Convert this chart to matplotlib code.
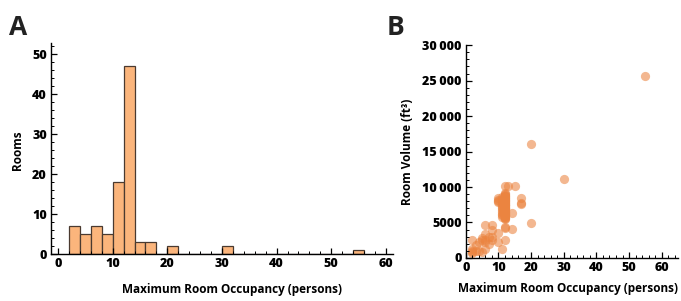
import numpy as np
import matplotlib
matplotlib.use('Agg')
import matplotlib.pyplot as plt
from matplotlib.ticker import MultipleLocator, FixedLocator, FixedFormatter

plt.rcParams['font.family'] = ['Open Sans', 'DejaVu Sans']
plt.rcParams['font.weight'] = 'heavy'

# histogram (panel A): bin edges and counts
binEdges = [2, 4, 6, 8, 10, 12, 14, 16, 18, 20, 22, 30, 32, 54, 56]
binLefts = [2, 4, 6, 8, 10, 12, 14, 16, 20, 30, 54]
binCounts = [7, 5, 7, 5, 18, 47, 3, 3, 2, 2, 1]

# scatter (panel B): occupancy vs room volume
occupancy = [2, 2, 2, 2, 2, 3, 3,
             4, 4, 5, 5, 5,
             6, 6, 6, 6, 6, 7, 7,
             8, 8, 8, 8, 10,
             10, 10, 10, 10, 11, 11, 11, 11, 11, 11, 11, 11, 11, 11, 11, 11, 11, 10,
             12, 12, 12, 12, 12, 12, 12, 12, 12, 12, 12, 12, 12, 12, 12, 12, 12, 12, 12, 12,
             12, 12, 12, 12, 12, 12, 12, 12, 12, 12, 12, 12, 12, 12, 12, 12, 12, 12, 12, 12,
             12, 12, 12, 12, 12, 12, 13,
             14, 14, 15, 17, 17, 17, 20, 20, 30, 55]
volume = [2600, 1300, 800, 700, 1000, 1000, 1800,
          2200, 1000, 2800, 2500, 800,
          4600, 3400, 2600, 2200, 1300, 3000, 2000,
          4700, 4000, 3000, 2600, 3500,
          8200, 7900, 8400, 2300, 1300, 8000, 7500, 7000, 6800, 6500, 6000, 8600, 8300, 7700, 7200, 6200, 5800, 8000,
          9200, 9000, 8900, 8800, 8700, 8600, 8500, 8400, 8300, 8200, 8100, 8000, 7900, 7800, 7700, 7600, 7500, 7400, 7300, 7200,
          7100, 7000, 6900, 6800, 6700, 6600, 6500, 6400, 6300, 6200, 6100, 6000, 5900, 5800, 5700, 5600, 5500, 7000, 7500, 8000,
          6500, 10200, 4400, 4200, 2600, 6000, 10200,
          6300, 4100, 10200, 8500, 7800, 7600, 16100, 4900, 11100, 25600]

vTicks = [0, 5000, 10000, 15000, 20000, 25000, 30000]
vTickLabels = ['0', '5000', '10\u2009000', '15\u2009000', '20\u2009000', '25\u2009000', '30\u2009000']

fig = plt.figure(figsize=(6.81, 3.01), dpi=100)
axA = fig.add_axes([0.0749, 0.156, 0.502, 0.701])
axB = fig.add_axes([0.684, 0.143, 0.3116, 0.707])

axA.hist(binLefts, bins=binEdges, weights=binCounts, color='#fbb57c',
         edgecolor='#4a3a30', linewidth=0.9)
axA.set_xlim(-1.28, 61.28)
axA.set_ylim(0, 52.75)
axA.xaxis.set_major_locator(MultipleLocator(10))
axA.xaxis.set_minor_locator(MultipleLocator(2))
axA.yaxis.set_major_locator(MultipleLocator(10))
axA.yaxis.set_minor_locator(MultipleLocator(2))
axA.set_xlabel('Maximum Room Occupancy (persons)', fontsize=8.5, fontweight='bold')
axA.set_ylabel('Rooms', fontsize=8.5, fontweight='bold')
axA.xaxis.set_label_coords(0.53, -0.135)
axA.yaxis.set_label_coords(-0.08, 0.49)

axB.scatter(occupancy, volume, s=44, color='#eb8440', alpha=0.58, linewidths=0)
axB.set_xlim(0, 65)
axB.set_ylim(0, 30000)
axB.xaxis.set_major_locator(MultipleLocator(10))
axB.xaxis.set_minor_locator(MultipleLocator(2))
axB.yaxis.set_major_locator(FixedLocator(vTicks))
axB.yaxis.set_major_formatter(FixedFormatter(vTickLabels))
axB.yaxis.set_minor_locator(MultipleLocator(1000))
axB.set_xlabel('Maximum Room Occupancy (persons)', fontsize=8.5, fontweight='bold')
axB.set_ylabel('Room Volume (ft³)', fontsize=8.5, fontweight='bold')
axB.xaxis.set_label_coords(0.48, -0.112)
axB.yaxis.set_label_coords(-0.245, 0.5)

for ax in (axA, axB):
    for side in ('top', 'right'):
        ax.spines[side].set_visible(False)
    for side in ('left', 'bottom'):
        ax.spines[side].set_linewidth(1.0)
    ax.tick_params(which='major', direction='in', length=4, width=0.9,
                   labelsize=9, pad=3)
    ax.tick_params(which='minor', direction='in', length=2, width=0.7)

fig.text(0.013, 0.885, 'A', fontsize=19, fontweight='bold', color='#222222')
fig.text(0.568, 0.885, 'B', fontsize=19, fontweight='bold', color='#222222')

fig.savefig('out.png', dpi=100)
